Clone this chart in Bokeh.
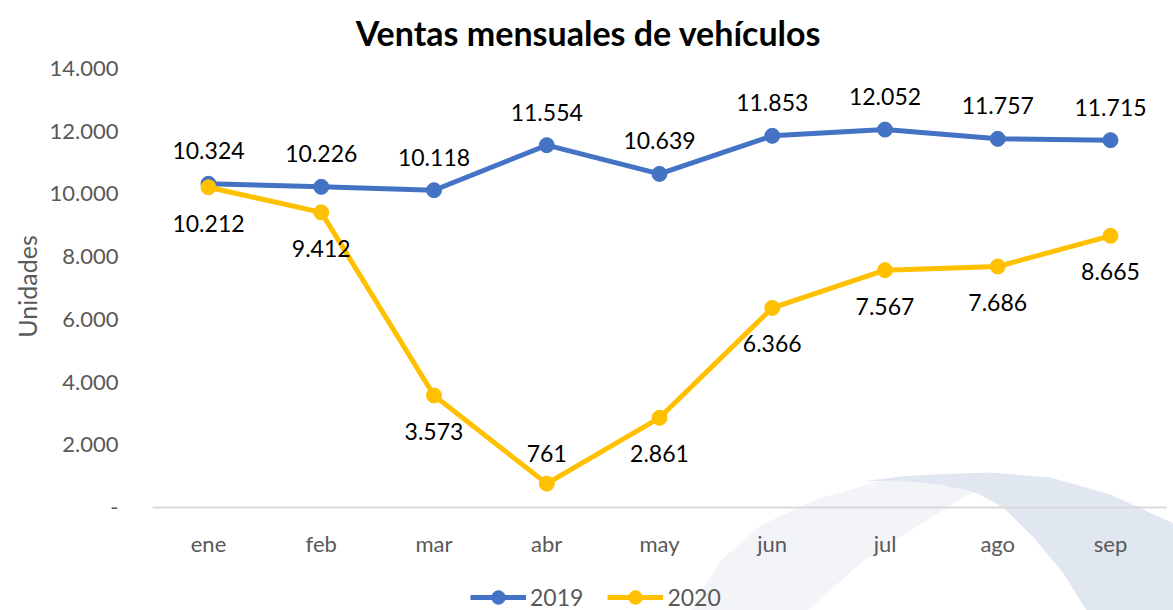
import math
from bokeh.plotting import figure
from bokeh.models import (ColumnDataSource, Range1d, FixedTicker, Legend, LegendItem,
                          PolyAnnotation, Label)
from bokeh.core.properties import value
from bokeh.embed import file_html
from bokeh.resources import INLINE

# ---- data ----
months = ["ene", "feb", "mar", "abr", "may", "jun", "jul", "ago", "sep"]
sales_2019 = [10324, 10226, 10118, 11554, 10639, 11853, 12052, 11757, 11715]
sales_2020 = [10212, 9412, 3573, 761, 2861, 6366, 7567, 7686, 8665]
label_side_2020 = ["below", "below", "below", "above", "below", "below", "below", "below", "below"]
y_ticks = [0, 2000, 4000, 6000, 8000, 10000, 12000, 14000]
y_tick_labels = ["-", "2.000", "4.000", "6.000", "8.000", "10.000", "12.000", "14.000"]
title_text = "Ventas mensuales de vehículos"
y_title = "Unidades"

FONT = "Lato"
BLUE = "#4472C4"
GOLD = "#FFC000"
GRAY = "#595959"

# ---- layout (pixels) ----
W, H = 1173, 610
X0_PX, STEP_PX = 208.0, 112.75          # centre of first category, category spacing
AX_LEFT_PX, AX_RIGHT_PX = 152.0, 1166.0  # plot-area horizontal extent
Y0_PX, YTOP_PX = 507.0, 68.0             # pixel rows of 0 and of the top of the value axis
Y_MAX = y_ticks[-1]

x_start = -X0_PX / STEP_PX
x_end = x_start + W / STEP_PX
ppu = (Y0_PX - YTOP_PX) / Y_MAX
y_start = -(H - Y0_PX) / ppu
y_end = y_start + H / ppu


def px_to_x(px):
    return x_start + px / STEP_PX


def fmt(v):
    return f"{v:,}".replace(",", ".")


xpos = list(range(len(months)))
ABOVE, BELOW = -33, 36
src19 = ColumnDataSource(dict(x=xpos, y=sales_2019, lab=[fmt(v) for v in sales_2019],
                              dy=[ABOVE] * len(months)))
src20 = ColumnDataSource(dict(x=xpos, y=sales_2020, lab=[fmt(v) for v in sales_2020],
                              dy=[ABOVE + 3 if s == "above" else BELOW for s in label_side_2020]))

p = figure(width=W, height=H, x_range=Range1d(x_start, x_end), y_range=Range1d(y_start, y_end),
           output_backend="svg", toolbar_location=None, min_border=0)
p.title = None
p.outline_line_color = None
p.border_fill_color = "white"
p.background_fill_color = "white"
p.grid.visible = False

# decorative swoosh (canvas pixels)
light_xs = [676, 690, 720, 760, 813, 880, 930, 975, 990, 975, 966, 923, 863, 807, 803]
light_ys = [620, 610, 560, 525, 500, 480, 475, 478, 490, 492, 495, 522, 560, 610, 620]
blue_xs = [862, 900, 930, 990, 1050, 1110, 1173, 1200, 1200, 1090, 1086, 1063, 1033, 1003, 975, 940, 900]
blue_ys = [481, 476, 474, 472, 477, 494, 523, 540, 620, 620, 610, 573, 537, 507, 492, 484, 480]
p.add_layout(PolyAnnotation(xs=light_xs, ys=light_ys, xs_units="canvas", ys_units="canvas",
                            fill_color="#F2F4F8", fill_alpha=1, line_color=None, level="underlay"))
p.add_layout(PolyAnnotation(xs=blue_xs, ys=blue_ys, xs_units="canvas", ys_units="canvas",
                            fill_color="#E1E7F0", fill_alpha=1, line_color=None, level="underlay"))

# title and value-axis title
p.add_layout(Label(x=588, y=32, x_units="canvas", y_units="canvas", text=title_text,
                   text_align="center", text_baseline="alphabetic", text_font=FONT,
                   text_font_size="34px", text_font_style="bold", text_color="black"))
p.add_layout(Label(x=26, y=286, x_units="canvas", y_units="canvas", text=y_title,
                   angle=math.pi / 2, text_align="center", text_baseline="alphabetic",
                   text_font=FONT, text_font_size="25px", text_color=GRAY))

# axes
xa = p.xaxis[0]
xa.fixed_location = 0
xa.bounds = (px_to_x(AX_LEFT_PX), px_to_x(AX_RIGHT_PX))
xa.ticker = FixedTicker(ticks=xpos)
xa.major_label_overrides = dict(zip(xpos, months))
xa.axis_line_color = "#D9D9D9"
xa.axis_line_width = 2
xa.major_tick_line_color = None
xa.minor_tick_line_color = None
xa.major_label_text_font = FONT
xa.major_label_text_font_size = "22px"
xa.major_label_text_color = GRAY
xa.major_label_standoff = 16

ya = p.yaxis[0]
ya.fixed_location = px_to_x(AX_LEFT_PX)
ya.bounds = (0, Y_MAX)
ya.ticker = FixedTicker(ticks=y_ticks)
ya.major_label_overrides = dict(zip(y_ticks, y_tick_labels))
ya.axis_line_color = None
ya.major_tick_line_color = None
ya.minor_tick_line_color = None
ya.major_label_text_font = FONT
ya.major_label_text_font_size = "22px"
ya.major_label_text_color = GRAY
ya.major_label_standoff = 28

# series
l19 = p.line("x", "y", source=src19, line_color=BLUE, line_width=5)
c19 = p.scatter("x", "y", source=src19, size=15, fill_color=BLUE, line_color=BLUE)
l20 = p.line("x", "y", source=src20, line_color=GOLD, line_width=5)
c20 = p.scatter("x", "y", source=src20, size=15, fill_color=GOLD, line_color=GOLD)

for src in (src19, src20):
    p.text("x", "y", text="lab", source=src, y_offset="dy", text_align="center",
           text_baseline="middle", text_font=value(FONT), text_font_size="23px",
           text_color="black")

legend = Legend(items=[LegendItem(label="2019", renderers=[l19, c19]),
                       LegendItem(label="2020", renderers=[l20, c20])],
                orientation="horizontal", location=(470, -4),
                glyph_width=56, glyph_height=34, label_standoff=4, spacing=24,
                label_text_font=FONT, label_text_font_size="23px", label_text_color=GRAY,
                border_line_color=None, background_fill_alpha=0, padding=0, margin=0)
p.add_layout(legend, "center")

open("out.html", "w").write(file_html(p, INLINE))
